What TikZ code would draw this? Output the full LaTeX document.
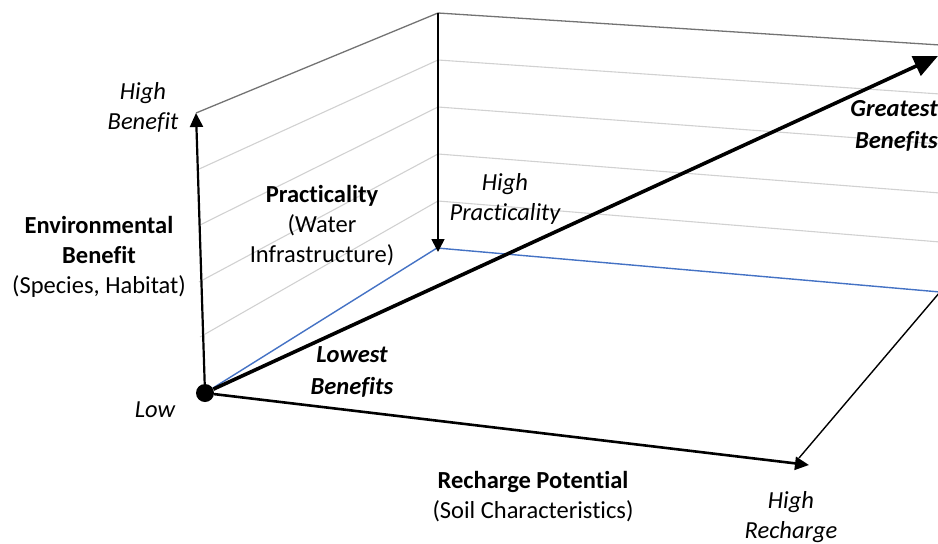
\documentclass[tikz,border=0pt]{standalone}
\usepackage{fontspec}
\setmainfont{Carlito}[Ligatures=NoCommon]
\usetikzlibrary{arrows.meta}
\definecolor{floorblue}{RGB}{68,114,196}

\begin{document}
\begin{tikzpicture}[x=1pt, y=-1pt, font=\fontsize{24.5}{30}\selectfont]
    \tikzset{grid line/.style={draw=black!18, line width=1.1pt},
      frame line/.style={draw=black!55, line width=1.3pt},
      floor line/.style={draw=floorblue, line width=1.4pt},
      axis/.style={line width=2.2pt, -{Triangle[length=14pt,width=13pt]}},
      text block/.style={align=center, inner sep=0pt},
      high text/.style={text block, font=\fontsize{24.5}{30}\selectfont\itshape},
      big text/.style={text block, font=\fontsize{24.5}{32}\selectfont\bfseries\itshape}}
    \useasboundingbox (0,0) rectangle (938,544);

    % Corners of the walls and the floor
    \node[circle, fill=black, inner sep=0pt, minimum size=18pt] (o) at (205,393) {};
    \coordinate (bl) at (196,113);
    \coordinate (bt) at (438,13);
    \coordinate (bb) at (438,252);
    \coordinate (rt) at (940,45);
    \coordinate (rb) at (940,292);
    \coordinate (rc) at (799,458);
    \coordinate (hr) at (809,465);
    \coordinate (gb) at (938,56);

    % Grid lines, left wall
    \draw[grid line] (197,170) -- (438,60);
    \draw[grid line] (198,226) -- (438,107);
    \draw[grid line] (199,282) -- (438,154);
    \draw[grid line] (200,337) -- (438,201);

    % Grid lines, back wall
    \draw[grid line] (438,60) -- (940,94);
    \draw[grid line] (438,107) -- (940,144);
    \draw[grid line] (438,154) -- (940,193);
    \draw[grid line] (438,201) -- (940,242);

    % Top edges
    \draw[frame line] (bl) -- (bt);
    \draw[frame line] (bt) -- (rt);

    % Floor edges
    \draw[floor line] (o) -- (437,248);
    \draw[floor line] (437,248) -- (rb);
    \draw[line width=1.4pt] (rb) -- (rc);

    % Axes
    \draw[axis] (o) -- (bl);
    \draw[line width=1.6pt, -{Triangle[length=13pt,width=13pt]}] (bt) -- (bb);
    \draw[axis, line width=2.6pt] (o) -- (hr);
    \draw[line width=3.6pt, -{Triangle[length=24pt,width=21pt]}] (o) -- (gb);

    % Labels
    \node[high text] (hb) at (143,107) {High\\Benefit};
    \node[text block] (eb) at (99,257) {\textbf{Environmental}\\\textbf{Benefit}\\(Species, Habitat)};
    \node[high text] (low) at (155,410) {Low};
    \node[text block] (pr) at (322,226) {\textbf{Practicality}\\(Water\\Infrastructure)};
    \node[high text] (hp) at (505,199) {High\\Practicality};
    \node[big text] (lb) at (352,372) {Lowest\\Benefits};
    \node[big text, anchor=east, align=right] (gbl) at (938,126) {Greatest\\Benefits};
    \node[text block] (rp) at (533,497) {\textbf{Recharge Potential}\\(Soil Characteristics)};
    \node[high text] (hrl) at (791,517) {High\\Recharge};
\end{tikzpicture}
\end{document}
